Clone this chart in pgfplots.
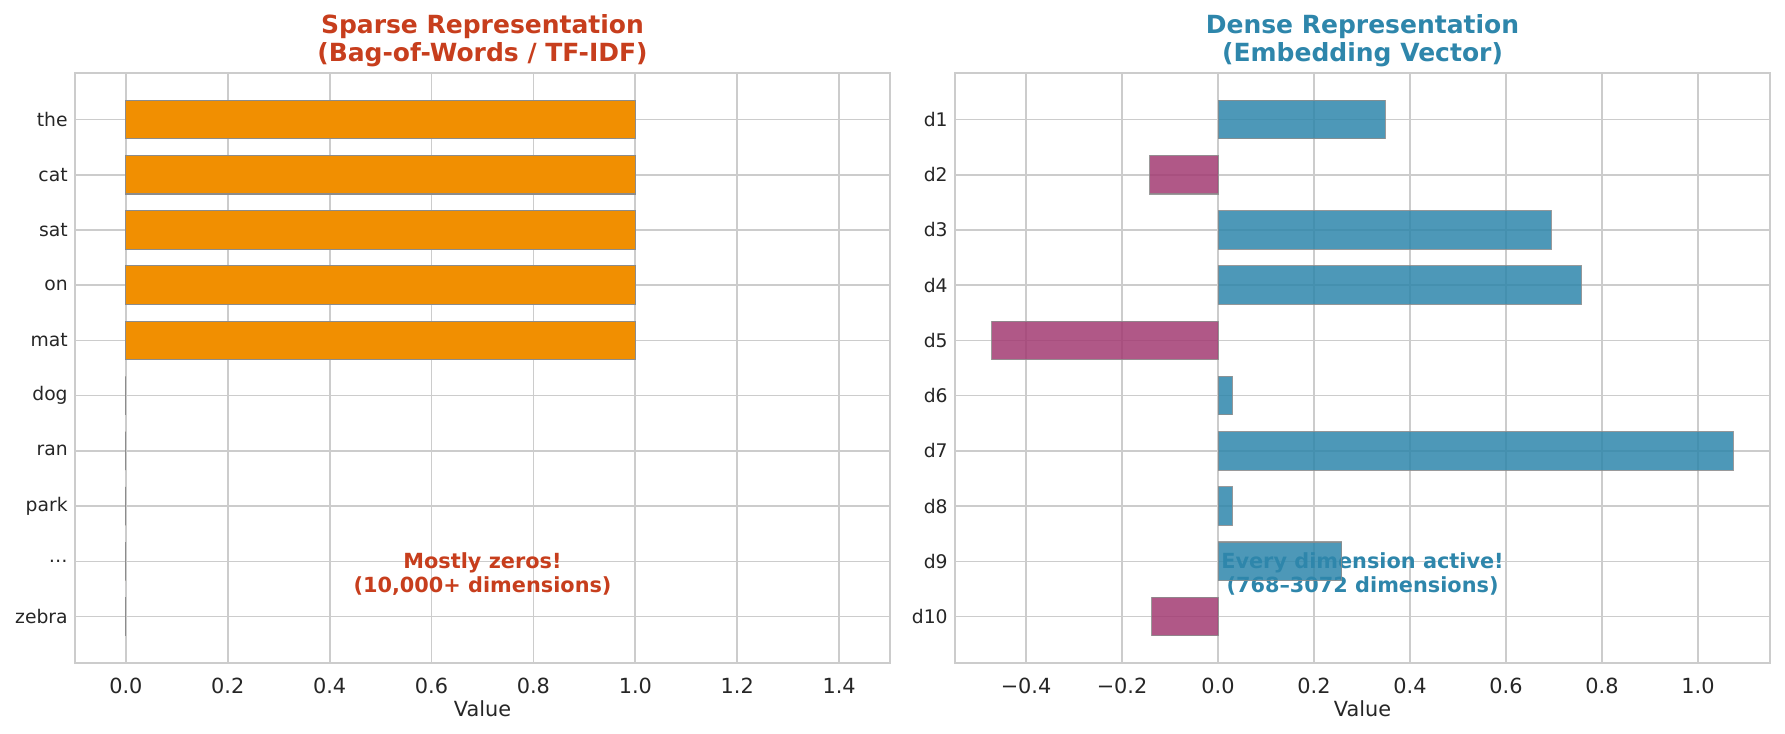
\documentclass[border=0pt]{standalone}
\usepackage{pgfplots}
\pgfplotsset{compat=1.18}
\usepackage{fontspec}
\setmainfont{DejaVu Sans}

\definecolor{sparsered}{HTML}{C73E1D}
\definecolor{denseblue}{HTML}{2E86AB}
\definecolor{barorange}{HTML}{F18F01}
\definecolor{negmagenta}{HTML}{A23B72}
\definecolor{gridgray}{HTML}{CCCCCC}
\definecolor{textdark}{HTML}{262626}
\definecolor{edgegray}{HTML}{8C8C8C}

\tikzset{note/.style={font=\bfseries\fontsize{10}{11.5}\selectfont, align=center}}

\pgfplotsset{
  panel/.style={
    scale only axis, width=391.2pt, height=282.9pt,
    xbar, bar shift=0pt, bar width=0.7,
    ymin=-0.835, ymax=9.835, ytick={0,...,9},
    xmajorgrids, ymajorgrids,
    grid style={gridgray, line width=0.8pt},
    axis line style={gridgray, line width=1pt},
    major tick length=0pt,
    tick label style={textdark},
    xticklabel style={font=\fontsize{10}{12}\selectfont, yshift=-4pt},
    yticklabel style={font=\fontsize{9}{11}\selectfont},
    xlabel={Value},
    xlabel style={font=\fontsize{10}{12}\selectfont, text=textdark, yshift=3.5pt},
    title style={font=\bfseries\fontsize{12}{13.7}\selectfont, align=center, yshift=-6.5pt},
  },
}

\begin{document}
\begin{tikzpicture}
\useasboundingbox (-36pt,-34.2pt) rectangle (820.8pt,318.1pt);

% Sparse bag-of-words vector: only the words present get a weight
\begin{axis}[panel, at={(0pt,0pt)}, anchor=south west,
  xmin=-0.1, xmax=1.5,
  xtick={0,0.2,0.4,0.6,0.8,1.0,1.2,1.4},
  xticklabels={0.0,0.2,0.4,0.6,0.8,1.0,1.2,1.4},
  yticklabels={zebra,\ldots,park,ran,dog,mat,on,sat,cat,the},
  title={Sparse Representation\\(Bag-of-Words / TF-IDF)},
  title style={text=sparsered}]
\addplot[fill=barorange, draw=edgegray, line width=0.5pt] coordinates {
  (1,9) (1,8) (1,7) (1,6) (1,5) (0,4) (0,3) (0,2) (0,1) (0,0)};
\node[note, text=sparsered] at (axis description cs:0.5,0.15)
  {Mostly zeros!\\(10,000+ dimensions)};
\end{axis}

% Dense embedding: every component carries a value, signed
\begin{axis}[panel, at={(422.4pt,0pt)}, anchor=south west,
  xmin=-0.548, xmax=1.150,
  xtick={-0.4,-0.2,0,0.2,0.4,0.6,0.8,1.0},
  xticklabels={−0.4,−0.2,0.0,0.2,0.4,0.6,0.8,1.0},
  yticklabels={d10,d9,d8,d7,d6,d5,d4,d3,d2,d1},
  title={Dense Representation\\(Embedding Vector)},
  title style={text=denseblue}]
\node[note, text=denseblue] at (axis description cs:0.5,0.15)
  {Every dimension active!\\(768–3072 dimensions)};
\addplot[fill=denseblue, draw=edgegray, line width=0.5pt, opacity=0.85] coordinates {
  (0.348,9) (0.694,7) (0.757,6) (0.030,4) (1.073,3) (0.030,2) (0.258,1)};
\addplot[fill=negmagenta, draw=edgegray, line width=0.5pt, opacity=0.85] coordinates {
  (-0.142,8) (-0.471,5) (-0.138,0)};
\end{axis}
\end{tikzpicture}
\end{document}
